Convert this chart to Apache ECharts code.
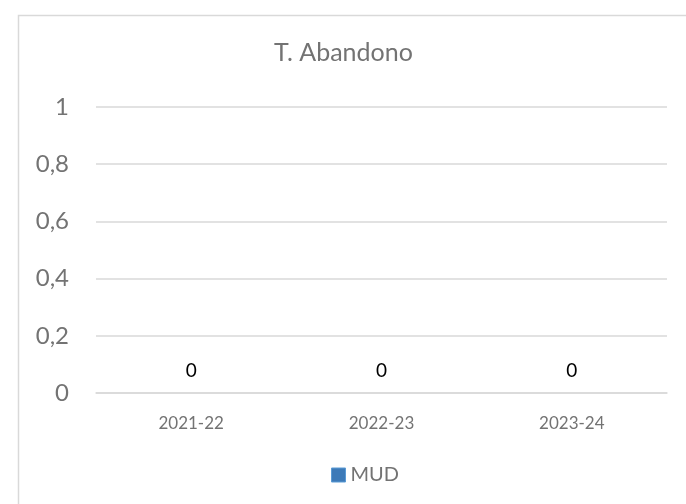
<!DOCTYPE html>
<html>
<head>
<meta charset="utf-8">
<script src="https://cdn.jsdelivr.net/npm/echarts@6/dist/echarts.min.js"></script>
<style>
  html, body { margin: 0; padding: 0; background: #fff; }
  #chart { width: 686px; height: 504px; }
</style>
</head>
<body>
<div id="chart"></div>
<script>
const categories = ["2021-22", "2022-23", "2023-24"];
const seriesName = "MUD";
const mudValues = [0, 0, 0];
const yTicks = [0, 0.2, 0.4, 0.6, 0.8, 1];

const chart = echarts.init(document.getElementById("chart"));
const font = "Lato, 'Open Sans', sans-serif";
const textGray = "#737373";

const option = {
  backgroundColor: "#fff",
  animation: false,
  graphic: [
    {
      // chart frame (only top and left edges are visible in the crop)
      type: "rect",
      left: 16,
      top: 13,
      shape: { width: 720, height: 540 },
      style: { fill: "none", stroke: "#d9d9d9", lineWidth: 1.5 },
      z: -1,
    },
  ],
  title: {
    text: "T. Abandono",
    left: 269,
    top: 35,
    textStyle: {
      fontFamily: font,
      fontSize: 25,
      fontWeight: "normal",
      color: textGray,
    },
  },
  legend: {
    data: [seriesName],
    left: 326,
    top: 460,
    itemWidth: 14,
    itemHeight: 14,
    itemGap: 10,
    icon: "rect",
    itemStyle: { borderColor: "#5b9bd5", borderWidth: 1 },
    textStyle: { fontFamily: font, fontSize: 20, color: textGray },
  },
  grid: {
    left: 96,
    right: 19,
    top: 107,
    bottom: 111,
  },
  xAxis: {
    type: "category",
    data: categories,
    axisLine: { lineStyle: { color: "#d9d9d9", width: 1.5 } },
    axisTick: { show: false },
    axisLabel: {
      margin: 22,
      fontFamily: font,
      fontSize: 17,
      color: textGray,
    },
  },
  yAxis: {
    type: "value",
    min: yTicks[0],
    max: yTicks[yTicks.length - 1],
    interval: 0.2,
    axisLine: { show: false },
    axisTick: { show: false },
    splitLine: { lineStyle: { color: "#d9d9d9", width: 1.5 } },
    axisLabel: {
      margin: 27,
      fontFamily: font,
      fontSize: 24,
      color: textGray,
      formatter: (v) => String(Math.round(v * 10) / 10).replace(".", ","),
    },
  },
  series: [
    {
      name: seriesName,
      type: "bar",
      data: mudValues,
      barWidth: "45%",
      itemStyle: {
        color: "#3d7ab8",
        borderWidth: 0,
      },
      label: {
        show: true,
        position: "top",
        distance: 13,
        fontFamily: font,
        fontSize: 19,
        color: "#000",
      },
    },
  ],
};

chart.setOption(option);
</script>
</body>
</html>
